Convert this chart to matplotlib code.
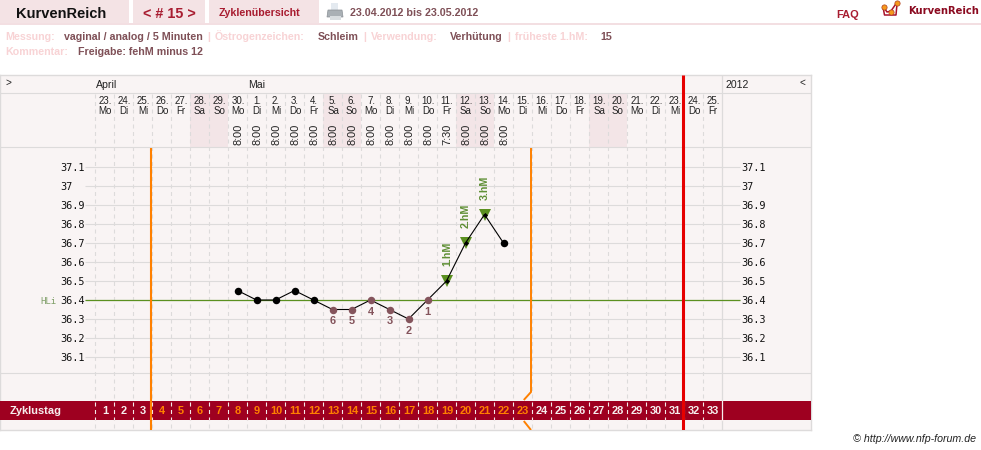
import matplotlib
matplotlib.use("Agg")
import matplotlib.pyplot as plt
from matplotlib.patches import Rectangle, Polygon

W, H = 981, 450

# Chart content
day_numbers = [23, 24, 25, 26, 27, 28, 29, 30, 1, 2, 3, 4, 5, 6, 7, 8, 9, 10, 11, 12, 13, 14, 15,
               16, 17, 18, 19, 20, 21, 22, 23, 24, 25]
weekdays = ["Mo", "Di", "Mi", "Do", "Fr", "Sa", "So"]
cycle_days = list(range(1, 34))
measure_days = list(range(8, 23))
temperatures = [36.45, 36.40, 36.40, 36.45, 36.40, 36.35, 36.35, 36.40, 36.35, 36.30, 36.40,
                36.50, 36.70, 36.85, 36.70]
measure_times = ["8:00"] * 11 + ["7:30"] + ["8:00"] * 3
low_count_days = [13, 14, 15, 16, 17, 18]
low_count_labels = ["6", "5", "4", "3", "2", "1"]
high_days = [19, 20, 21]
high_labels = ["1.hM", "2.hM", "3.hM"]
axis_temps = [37.1, 37.0, 36.9, 36.8, 36.7, 36.6, 36.5, 36.4, 36.3, 36.2, 36.1]
axis_labels = ["37.1", "37", "36.9", "36.8", "36.7", "36.6", "36.5", "36.4", "36.3", "36.2", "36.1"]
coverline = 36.4
fertile_start, fertile_end = 3, 23
today_offset = 30.96

BG = "#f9f4f4"
GRID = "#dddbdb"
TAB = "#f4e3e5"
WEEKEND = "#f3e5e7"
CRIMSON = "#9e0020"
TITLE_RED = "#a81c30"
MUTED = "#7f5057"
PALE = "#f8d3d5"
ORANGE = "#ff8000"
RED = "#e60000"
GREEN = "#5b9020"
HM_GREEN = "#5f8f35"
BROWN = "#84545c"

SANS = "Liberation Sans"
MONO = "DejaVu Sans Mono"


def px(size):
    """Pixel size to points at 100 dpi."""
    return size * 0.72


fig = plt.figure(figsize=(W / 100, H / 100), dpi=100, facecolor="white")

# Page furniture lives in a pixel-addressed layer.
page = fig.add_axes([0, 0, 1, 1], zorder=1)
page.set_xlim(0, W)
page.set_ylim(H, 0)
page.axis("off")


def box(x0, y0, x1, y1, color, z=1):
    page.add_patch(Rectangle((x0, y0), x1 - x0, y1 - y0, fc=color, ec="none", zorder=z))


def label(x, y, s, size, color, weight="bold", family=SANS, ha="left", **kw):
    page.text(x, y, s, fontsize=px(size), color=color, fontweight=weight, family=family,
              ha=ha, va="baseline", **kw)


# Top tabs
box(0, 23, W, 25, "#f3dfe2")
box(0, 0, 129, 23, TAB)
box(133, 0, 205, 23, TAB)
box(209, 0, 319, 23, TAB)
label(16, 18, "KurvenReich", 14.6, "#111111")
label(143, 18, "< # 15 >", 14.4, TITLE_RED)
label(219, 16, "Zyklenübersicht", 10.6, TITLE_RED)
label(350, 16, "23.04.2012 bis 23.05.2012", 10.7, MUTED)
label(836, 18, "FAQ", 11, TITLE_RED)
label(908, 13.5, "KurvenReich", 10, "#8b0a20", family="DejaVu Sans")

# Printer icon
box(331, 3, 338, 10, "#e4eaf0", 2)
page.add_patch(Polygon([(328, 10), (342, 10), (343, 17), (327, 17)], fc="#a9b0b5", ec="#8a9095", lw=0.5, zorder=3))
box(330, 16, 341, 20, "#d8dde0", 3)
# Logo
page.plot([883.5, 887, 891, 896.5], [7, 12, 11, 3], color="#a8122c", lw=1.1, zorder=2)
page.plot([883, 884.5, 896, 897], [7, 15, 15, 4], color="#a8122c", lw=1.1, zorder=2)
page.plot([883.5, 890.5, 897], [7, 11.5, 3], ls="none", marker="o", ms=3.8, mfc="#f59a1c", mec="#b04020", mew=0.5, zorder=3)

# Cycle summary lines
row1 = [(5, "Messung:", PALE), (64, "vaginal / analog / 5 Minuten", MUTED), (207.5, "|", PALE),
        (215, "Östrogenzeichen:", PALE), (318, "Schleim", MUTED), (363.5, "|", PALE),
        (371, "Verwendung:", PALE), (450, "Verhütung", MUTED), (507, "|", PALE),
        (515, "früheste 1.hM:", PALE), (600, "15", MUTED)]
for x, s, c in row1:
    label(x, 40, s, 10.6, c)
label(5, 55, "Kommentar:", 10.6, PALE)
label(78, 55, "Freigabe: fehM minus 12", 10.6, MUTED)
label(976, 442, "© http://www.nfp-forum.de", 10.6, "#222222", weight="normal", ha="right", style="italic")

# Chart axes: x counts cycle-day columns, y is temperature.
L, R, T, B = 0.0, 811.0, 75.0, 430.0
COL0, COLW = 94.5, 19.0
Y_REF, PX_PER_DEG = 300.0, 190.0
ax = fig.add_axes([L / W, 1 - B / H, (R - L) / W, (B - T) / H], zorder=2, facecolor=BG)
ax.set_xlim((L - COL0) / COLW, (R - COL0) / COLW)
ax.set_ylim(coverline + (Y_REF - B) / PX_PER_DEG, coverline + (Y_REF - T) / PX_PER_DEG)
ax.set_xticks([])
ax.set_yticks([])
for s in ax.spines.values():
    s.set_color(GRID)
    s.set_linewidth(1.0)
    s.set_zorder(1.5)

trans_x = ax.get_xaxis_transform()    # x data, y axes fraction
VLINE_SHIFT = -0.5 / COLW
DOT_SHIFT = 0.5 / COLW
TEXT_SHIFT = 1.0 / COLW


def yfrac(ypx):
    return (B - ypx) / (B - T)


def col_center(day):
    return day - 0.5 + DOT_SHIFT


def col_px(xpx):
    return (xpx - COL0) / COLW


n_days = len(day_numbers)

# Weekend columns in the date header
for i in range(n_days):
    if i % 7 in (5, 6):
        ax.fill_between([i, i + 1], yfrac(94), yfrac(147), transform=trans_x, color=WEEKEND, lw=0, zorder=0.5)

# Header separators and the right-hand column edge
for ypx in (93, 147, 373):
    ax.plot([0, 1], [yfrac(ypx)] * 2, transform=ax.transAxes, color=GRID, lw=0.8, zorder=1)
ax.plot([n_days, n_days], [0, 1], transform=trans_x, color=GRID, lw=0.9, zorder=1)

# Day columns
for k in range(n_days):
    ax.plot([k, k], [yfrac(94), yfrac(430)], transform=trans_x, color=GRID, lw=0.8,
            dashes=(3.6, 3.15), zorder=1)

# Temperature gridlines
grid_left = col_px(85)
grid_right = col_px(740)
ax.hlines(axis_temps, grid_left, grid_right, color=GRID, lw=0.8, zorder=1)
ax.hlines([coverline], grid_left, grid_right, color=GREEN, lw=0.9, zorder=2)

# Temperature scale on both sides
for t, s in zip(axis_temps, axis_labels):
    ax.text(col_px(60), t, s, family=MONO, fontsize=px(10.2), color="#111111", ha="left", va="center_baseline")
    ax.text(col_px(741.5), t, s, family=MONO, fontsize=px(10.2), color="#111111", ha="left", va="center_baseline")
ax.text(col_px(40), coverline, "HLi", family=MONO, fontsize=px(9), color="#7f9f68", ha="left", va="center_baseline")

# Month, year and collapse markers
for x, s in [(96, "April"), (248, "Mai"), (726, "2012")]:
    ax.text(col_px(x), yfrac(85), s, transform=trans_x, family=SANS, fontsize=px(10.5), color="#222222", va="center")
for x, s in [(5, ">"), (800, "<")]:
    ax.text(col_px(x), yfrac(83), s, transform=trans_x, family=SANS, fontsize=px(10), color="#222222", va="center")

# Dates and weekdays
for i, d in enumerate(day_numbers):
    ax.text(i + 0.5 + TEXT_SHIFT, yfrac(100.5), f"{d}.", transform=trans_x, family=SANS, fontsize=px(9.8),
            color="#222222", ha="center", va="center")
    ax.text(i + 0.5 + TEXT_SHIFT, yfrac(111), weekdays[i % 7], transform=trans_x, family=SANS, fontsize=px(9.8),
            color="#222222", ha="center", va="center")

# Measurement times, rotated
for day, tm in zip(measure_days, measure_times):
    ax.text(day - 0.5 + 1.5 * TEXT_SHIFT, yfrac(134), tm, transform=trans_x, family=SANS, fontsize=px(11),
            color="#222222", rotation=90, ha="center", va="center")

# Cycle-day bar
ax.fill_between([col_px(L), col_px(R)], yfrac(401), yfrac(420), transform=trans_x,
                color=CRIMSON, lw=0, zorder=3)
ax.plot([n_days, n_days], [yfrac(401), yfrac(420)], transform=trans_x, color="#f6eeee", lw=0.9, zorder=3.1)
for k in range(n_days):
    ax.plot([k, k], [yfrac(402), yfrac(420)], transform=trans_x, color="#f4e8e8", lw=0.8,
            dashes=(3.6, 3.15), zorder=3.1)
ax.text(col_px(10), yfrac(411), "Zyklustag", transform=trans_x, family=SANS, fontsize=px(11),
        fontweight="bold", color="#f6eeee", va="center", zorder=5)
for c in cycle_days:
    color = ORANGE if fertile_start < c <= fertile_end else "#f6eeee"
    ax.text(c - 0.5 + TEXT_SHIFT, yfrac(411), str(c), transform=trans_x, family=SANS, fontsize=px(11),
            fontweight="bold", color=color, ha="center", va="center", zorder=5)

# Fertile window bounds
start_x = fertile_start + VLINE_SHIFT
end_x = fertile_end + VLINE_SHIFT
ax.plot([start_x, start_x], [yfrac(148), 0], transform=trans_x, color=ORANGE, lw=1.5, zorder=4, solid_capstyle="butt")
ax.plot([end_x, end_x, end_x - 0.38], [yfrac(148), yfrac(392), yfrac(400)], transform=trans_x,
        color=ORANGE, lw=1.4, zorder=4, solid_capstyle="butt")
ax.plot([end_x - 0.38, end_x], [yfrac(421), yfrac(430)], transform=trans_x, color=ORANGE, lw=1.4, zorder=4, solid_capstyle="butt")

# Current day marker
ax.plot([today_offset, today_offset], [0, 1], transform=trans_x, color=RED, lw=2.2, zorder=4, solid_capstyle="butt")

# Temperature curve
xs = [col_center(d) for d in measure_days]
lookup = dict(zip(measure_days, temperatures))
ax.plot(xs, temperatures, color="black", lw=0.8, zorder=6)
black_days = [d for d in measure_days if d not in low_count_days and d not in high_days]
ax.plot([col_center(d) for d in black_days], [lookup[d] for d in black_days], ls="none", marker="o",
        ms=5.4, mfc="black", mec="black", mew=0, zorder=7)
ax.plot([col_center(d) for d in low_count_days], [lookup[d] for d in low_count_days], ls="none", marker="o",
        ms=5.4, mfc=BROWN, mec=BROWN, mew=0, zorder=7)
ax.plot([col_center(d) for d in high_days], [lookup[d] for d in high_days], ls="none", marker="v",
        ms=9, mfc=GREEN, mec=GREEN, mew=0, zorder=5.5)
ax.plot([col_center(d) for d in high_days], [lookup[d] for d in high_days], ls="none", marker="D",
        ms=2.6, mfc="black", mec="black", mew=0, zorder=7)

for d, s in zip(low_count_days, low_count_labels):
    ax.annotate(s, (col_center(d), lookup[d]), xytext=(0, -px(12)), textcoords="offset points", family=SANS,
                fontsize=px(11), fontweight="bold", color=BROWN, ha="center", va="center", zorder=7)
for d, s in zip(high_days, high_labels):
    ax.annotate(s, (col_center(d), lookup[d]), xytext=(px(0.5), px(27)), textcoords="offset points", family=SANS,
                fontsize=px(10.6), fontweight="bold", color=HM_GREEN, ha="center", va="center", rotation=90, zorder=7)

fig.savefig("out.png", dpi=100, facecolor="white")
